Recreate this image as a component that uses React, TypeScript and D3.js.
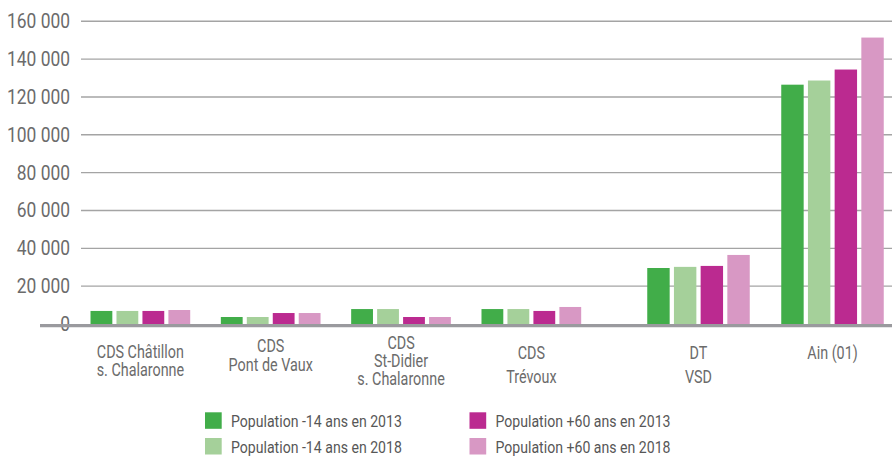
import React from "react";
import * as d3 from "d3";

const categories = [
  "CDS Châtillon\ns. Chalaronne",
  "CDS\nPont de Vaux",
  "CDS\nSt-Didier\ns. Chalaronne",
  "CDS\nTrévoux",
  "DT\nVSD",
  "Ain (01)",
];
const sectionOf = ["CDS", "CDS", "CDS", "CDS", "TOT", "TOT"];

const seriesNames = [
  "Population -14 ans en 2013",
  "Population -14 ans en 2018",
  "Population +60 ans en 2013",
  "Population +60 ans en 2018",
];
const pop14_2013 = [6900, 3700, 7900, 7900, 29600, 126500];
const pop14_2018 = [6900, 3700, 7900, 7900, 30200, 128700];
const pop60_2013 = [6900, 5800, 3700, 6900, 30700, 134500];
const pop60_2018 = [7400, 5800, 3700, 9000, 36500, 151400];
const seriesValues = [pop14_2013, pop14_2018, pop60_2013, pop60_2018];
const seriesColors = ["#41ad49", "#a5d09a", "#bb2a90", "#d898c4"];
const yTicks = [0, 20000, 40000, 60000, 80000, 100000, 120000, 140000, 160000];

const W = 892;
const H = 457;
const FONT = "Roboto, 'Liberation Sans', sans-serif";

// label layout: baseline of first line and line spacing per category
const labelFirst = [358, 352, 349, 359, 359, 359];
const labelStep = [18, 19, 18, 24, 24, 24];

function CText(props: {
  x: number;
  y: number;
  sx: number;
  size: number;
  fill: string;
  anchor?: string;
  lines: string[];
  step?: number;
}) {
  const { x, y, sx, size, fill, anchor = "start", lines, step = 0 } = props;
  return (
    <text
      transform={`translate(${x},${y}) scale(${sx},1)`}
      textAnchor={anchor}
      fontSize={size}
      fill={fill}
    >
      {lines.map((l, k) => (
        <tspan key={k} x={0} y={k * step}>
          {l}
        </tspan>
      ))}
    </text>
  );
}

export default function App() {
  const y = d3.scaleLinear().domain([0, 160000]).range([324, 21.3]);
  const fmt = (v: number) => d3.format(",")(v).replace(/,/g, " ");

  const catA = categories.filter((_, i) => sectionOf[i] === "CDS");
  const catB = categories.filter((_, i) => sectionOf[i] === "TOT");
  const pad = 0.235;
  const xA = d3.scaleBand<string>().domain(catA).range([75.2, 596.5]).paddingInner(pad).paddingOuter(pad / 2);
  const xB = d3.scaleBand<string>().domain(catB).range([631.5, 899.5]).paddingInner(pad).paddingOuter(pad / 2);
  const xOf = (i: number) => (sectionOf[i] === "CDS" ? xA : xB);

  const inner = (bw: number) =>
    d3.scaleBand<number>().domain(d3.range(seriesNames.length)).range([0, bw]).paddingInner(0.16).paddingOuter(0);

  return (
    <div style={{ position: "fixed", left: 0, top: 0 }}>
      <svg width={W} height={H} style={{ display: "block", background: "#fff" }} fontFamily={FONT}>
        {/* grid */}
        {yTicks.filter((t) => t > 0).map((t) => (
          <line key={t} x1={81} x2={W} y1={y(t)} y2={y(t)} stroke="#a4a4a4" strokeWidth={1.4} />
        ))}
        {/* y labels */}
        {yTicks.map((t) => (
          <CText key={"l" + t} x={70} y={y(t) + 7} sx={0.87} anchor="end" size={20} fill="#6b6b6b" lines={[fmt(t)]} />
        ))}
        {/* bars */}
        {categories.map((c, i) => {
          const xs = xOf(i);
          const x0 = xs(c)!;
          const sub = inner(xs.bandwidth());
          return (
            <g key={c} transform={`translate(${x0},0)`}>
              {seriesValues.map((vals, s) => (
                <rect
                  key={s}
                  x={sub(s)!}
                  width={sub.bandwidth()}
                  y={y(vals[i])}
                  height={y(0) - y(vals[i])}
                  fill={seriesColors[s]}
                />
              ))}
            </g>
          );
        })}
        {/* axis baseline */}
        <line x1={40} x2={W} y1={325.6} y2={325.6} stroke="#9a9a9e" strokeWidth={3.2} />
        {/* category labels */}
        {categories.map((c, i) => {
          const xs = xOf(i);
          const cx = xs(c)! + xs.bandwidth() / 2;
          return (
            <CText
              key={"c" + i}
              x={cx}
              y={labelFirst[i]}
              sx={0.82}
              anchor="middle"
              size={17.5}
              fill="#6b6b6b"
              lines={c.split("\n")}
              step={labelStep[i]}
            />
          );
        })}
        {/* legend */}
        {seriesNames.map((name, s) => {
          const col = Math.floor(s / 2);
          const row = s % 2;
          const lx = 205 + col * 264.5;
          const ly = 412.3 + row * 25.7;
          return (
            <g key={name}>
              <rect x={lx} y={ly} width={16.7} height={16.5} fill={seriesColors[s]} />
              <CText x={lx + 26} y={ly + 15} sx={0.82} size={17.2} fill="#575757" lines={[name]} />
            </g>
          );
        })}
      </svg>
    </div>
  );
}
